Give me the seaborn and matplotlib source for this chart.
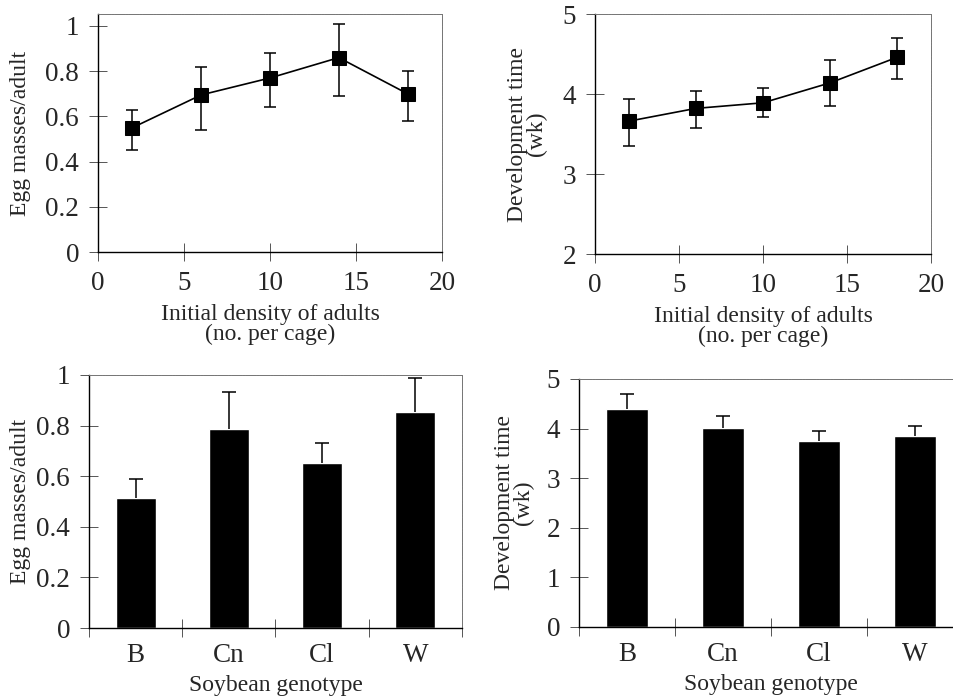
import numpy as np
import pandas as pd
import matplotlib
matplotlib.use("Agg")
import matplotlib.pyplot as plt
from matplotlib.ticker import FuncFormatter, FixedLocator
import seaborn as sns

# density experiment (top row)
density = [2, 6, 10, 14, 18]
egg_density = [0.55, 0.695, 0.77, 0.86, 0.70]
egg_density_lo = [0.45, 0.54, 0.64, 0.69, 0.58]
egg_density_hi = [0.63, 0.82, 0.88, 1.01, 0.80]
dev_density = [3.66, 3.82, 3.89, 4.14, 4.46]
dev_density_lo = [3.35, 3.57, 3.71, 3.85, 4.19]
dev_density_hi = [3.94, 4.04, 4.08, 4.43, 4.70]

# genotype experiment (bottom row)
genotypes = ["B", "Cn", "Cl", "W"]
egg_geno = [0.515, 0.788, 0.651, 0.854]
egg_geno_hi = [0.588, 0.932, 0.732, 0.987]
dev_geno = [4.39, 4.01, 3.75, 3.86]
dev_geno_hi = [4.70, 4.245, 3.95, 4.06]

sns.set_style("white")
plt.rcParams["font.family"] = ["Liberation Serif", "DejaVu Serif"]

W, H = 954, 697
fig = plt.figure(figsize=(W / 100, H / 100), dpi=100)


def px_axes(x0, y0, x1, y1):
    return fig.add_axes([x0 / W, 1 - y1 / H, (x1 - x0) / W, (y1 - y0) / H])


fmt = FuncFormatter(lambda v, p: "%g" % v)
TICK_FS = 19.5
LAB_FS = 17


def style(ax):
    for s in ["left", "bottom"]:
        ax.spines[s].set_color("black")
        ax.spines[s].set_linewidth(1.0)
    for s in ["top", "right"]:
        ax.spines[s].set_color("#777777")
        ax.spines[s].set_linewidth(0.7)
        ax.spines[s].set_linestyle((0, (1, 0.6)))
    ax.tick_params(which="both", direction="inout", length=13, width=0.7,
                   color="#555555", labelsize=TICK_FS, left=True, bottom=True,
                   pad=7)
    ax.yaxis.set_major_formatter(fmt)


def line_panel(ax, y, lo, hi, ylim, yticks, ylabel, ylpad):
    df = pd.DataFrame({"x": density, "y": y})
    yerr = [np.array(y) - np.array(lo), np.array(hi) - np.array(y)]
    ax.errorbar(density, y, yerr=yerr, fmt="none", ecolor="black",
                elinewidth=1.1, capsize=4, capthick=1.1, zorder=2)
    sns.lineplot(data=df, x="x", y="y", ax=ax, color="black", lw=1.2,
                 marker="s", markersize=10, markeredgecolor="black", zorder=3)
    ax.set_xlim(0, 20)
    ax.set_ylim(*ylim)
    ax.set_xticks([0, 5, 10, 15, 20])
    ax.set_yticks(yticks)
    ax.set_xlabel("Initial density of adults\n(no. per cage)", fontsize=LAB_FS,
                  linespacing=0.92, labelpad=6)
    ax.set_ylabel(ylabel, fontsize=LAB_FS, linespacing=0.9, labelpad=ylpad)
    style(ax)


def bar_panel(ax, y, hi, ylim, yticks, ylabel, ylpad):
    df = pd.DataFrame({"g": genotypes, "y": y})
    sns.barplot(data=df, x="g", y="y", ax=ax, color="black", width=0.43,
                saturation=1, errorbar=None)
    yerr = [np.zeros(len(y)), np.array(hi) - np.array(y)]
    eb = ax.errorbar(range(len(genotypes)), y, yerr=yerr, fmt="none",
                     ecolor="black", elinewidth=1.1, capsize=5, capthick=1.1)
    # only keep the upper cap
    eb[1][0].set_visible(False)
    ax.set_xlim(-0.5, 3.5)
    ax.set_ylim(*ylim)
    ax.set_yticks(yticks)
    ax.xaxis.set_minor_locator(FixedLocator([-0.5, 0.5, 1.5, 2.5, 3.5]))
    ax.set_xlabel("Soybean genotype", fontsize=LAB_FS, labelpad=5)
    ax.set_ylabel(ylabel, fontsize=LAB_FS, linespacing=0.9, labelpad=ylpad)
    style(ax)
    ax.tick_params(axis="x", which="major", length=0, pad=11)


ax1 = px_axes(98, 14, 442, 252)
line_panel(ax1, egg_density, egg_density_lo, egg_density_hi, (0, 1.053),
           [0, 0.2, 0.4, 0.6, 0.8, 1], "Egg masses/adult", 10)

ax2 = px_axes(595, 14, 931, 254)
line_panel(ax2, dev_density, dev_density_lo, dev_density_hi, (2, 5),
           [2, 3, 4, 5], "Development time\n(wk)", 11)

ax3 = px_axes(89, 375, 462, 628)
bar_panel(ax3, egg_geno, egg_geno_hi, (0, 1), [0, 0.2, 0.4, 0.6, 0.8, 1],
          "Egg masses/adult", 4)

ax4 = px_axes(579, 379, 963, 627)
bar_panel(ax4, dev_geno, dev_geno_hi, (0, 5), [0, 1, 2, 3, 4, 5],
          "Development time\n(wk)", 9)

fig.savefig("out.png", dpi=100)
